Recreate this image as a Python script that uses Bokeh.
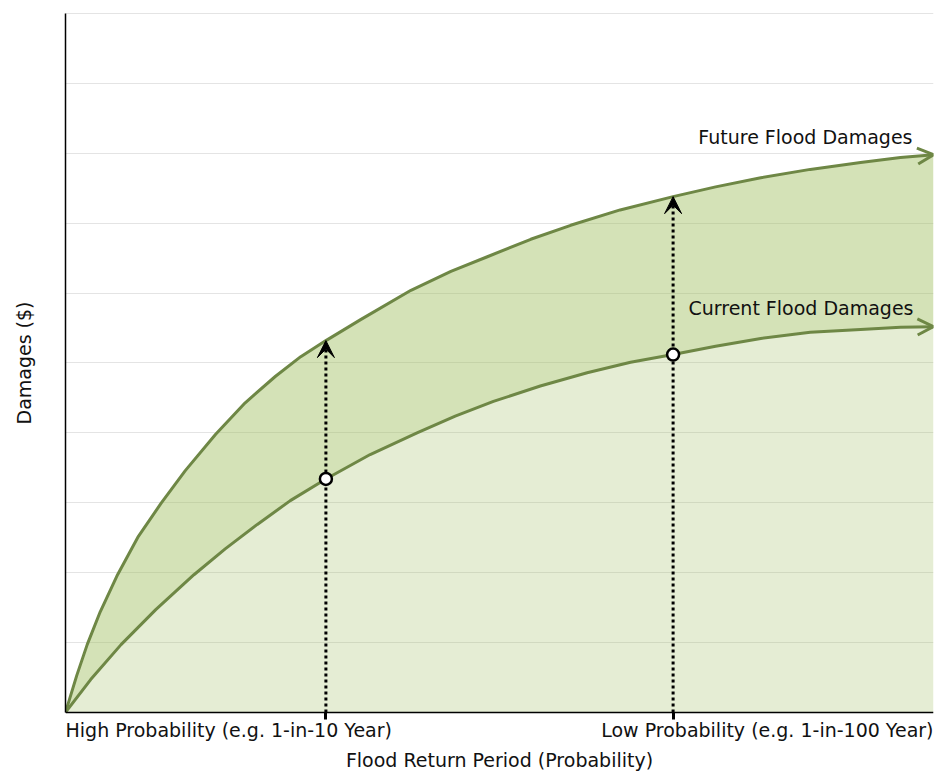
from bokeh.plotting import figure
from bokeh.models import (Range1d, FixedTicker, Arrow, OpenHead, VeeHead, Label, Title,
                          ColumnDataSource, CustomJSTickFormatter)
from bokeh.embed import file_html
from bokeh.resources import INLINE

# ---- data ----
x_start, x_end = 0, 100
y_start, y_end = 0, 10
y_pad_below = -0.86          # room under the axis for the end labels
y_pad_above = 10.015         # keeps the top grid line (10) just inside the frame
y_grid = [0, 1, 2, 3, 4, 5, 6, 7, 8, 9, 10]

future_x = [0, 1.3, 2.5, 4.0, 6.0, 8.4, 11.0, 13.8, 17.3, 20.7, 24.2, 27.1, 30,
            34.0, 39.8, 44.4, 48.6, 53.6, 58.2, 63.9, 70, 74.9, 80.1, 85.8, 91.6, 96.2, 100]
future_y = [0, 0.53, 0.97, 1.44, 1.97, 2.52, 2.99, 3.46, 3.98, 4.43, 4.81, 5.09, 5.32,
            5.62, 6.04, 6.31, 6.52, 6.77, 6.97, 7.19, 7.38, 7.52, 7.65, 7.77, 7.87, 7.94, 7.98]

current_x = [0, 2.9, 6.4, 10.4, 14.8, 18.4, 22.1, 25.9, 30, 35.1, 40.5, 44.9, 49.3,
             54.7, 60.1, 65.1, 70, 74.9, 80.1, 85.8, 91.6, 96.2, 100]
current_y = [0, 0.47, 0.97, 1.47, 1.97, 2.34, 2.69, 3.03, 3.34, 3.69, 4.00, 4.24, 4.45,
             4.67, 4.86, 5.01, 5.12, 5.24, 5.35, 5.44, 5.48, 5.51, 5.52]

event_x = [30, 70]
event_current = [3.34, 5.12]
event_future = [5.32, 7.38]

x_label_high = "High Probability (e.g. 1-in-10 Year)"
x_label_low = "Low Probability (e.g. 1-in-100 Year)"
x_title = "Flood Return Period (Probability)"
y_title = "Damages ($)"
future_name = "Future Flood Damages"
current_name = "Current Flood Damages"

# ---- styles ----
FONT = "DejaVu Sans"
FS = "19px"
GREEN = "#6e8745"
FILL = "#9bbb59"
TXT = "#111111"

p = figure(width=938, height=772, x_range=Range1d(x_start, x_end),
           y_range=Range1d(y_pad_below, y_pad_above), output_backend="svg",
           toolbar_location=None, min_border_left=65, min_border_right=5,
           min_border_top=12, min_border_bottom=0)
p.outline_line_color = None
p.background_fill_color = "white"
p.border_fill_color = "white"

empty = CustomJSTickFormatter(code="return ''")

# y axis (line only); its title is placed as a side Title so it centres on 0..10
p.yaxis.ticker = FixedTicker(ticks=y_grid)
p.yaxis.bounds = (y_start, y_end)
p.yaxis.formatter = empty
p.yaxis.major_tick_line_color = None
p.yaxis.major_tick_out = 26
p.yaxis.major_tick_in = 0
p.yaxis.minor_tick_line_color = None
p.yaxis.major_label_standoff = 0
p.yaxis.axis_line_color = "black"
p.yaxis.axis_line_width = 1.5

p.add_layout(Title(text=y_title, align="left", offset=348, vertical_align="bottom",
                   standoff=10, text_font=FONT, text_font_size=FS,
                   text_font_style="normal", text_color=TXT), "left")

# x axis, pinned at y = 0
p.xaxis.fixed_location = y_start
p.xaxis.ticker = FixedTicker(ticks=event_x)
p.xaxis.formatter = empty
p.xaxis.major_tick_out = 7
p.xaxis.major_tick_in = 0
p.xaxis.major_tick_line_width = 3
p.xaxis.major_tick_line_color = "black"
p.xaxis.minor_tick_line_color = None
p.xaxis.major_label_standoff = 0
p.xaxis.axis_line_color = "black"
p.xaxis.axis_line_width = 1.5
p.xaxis.axis_label = x_title
p.xaxis.axis_label_text_font = FONT
p.xaxis.axis_label_text_font_size = FS
p.xaxis.axis_label_text_font_style = "normal"
p.xaxis.axis_label_text_color = TXT
p.xaxis.axis_label_standoff = 29

p.xgrid.visible = False
p.ygrid.grid_line_color = "#e4e4e4"
p.ygrid.grid_line_width = 1

# fills
p.patch(x=current_x + [current_x[-1]], y=current_y + [y_start],
        fill_color=FILL, fill_alpha=0.26, line_color=None)
p.patch(x=future_x + current_x[::-1], y=future_y + current_y[::-1],
        fill_color=FILL, fill_alpha=0.43, line_color=None)

# curves
p.line(future_x, future_y, line_color=GREEN, line_width=3, line_join="round")
p.line(current_x, current_y, line_color=GREEN, line_width=3, line_join="round")

# curve-end arrowheads
for xs, ys in ((future_x, future_y), (current_x, current_y)):
    p.add_layout(Arrow(end=OpenHead(size=16, line_color=GREEN, line_width=3),
                       x_start=xs[-2], y_start=ys[-2], x_end=xs[-1], y_end=ys[-1],
                       line_alpha=0))

# dotted arrows
src = ColumnDataSource(dict(x=event_x, y0=[y_start] * len(event_x), y1=event_future))
p.add_layout(Arrow(end=VeeHead(size=17, fill_color="black", line_color="black", line_width=1),
                   source=src, x_start="x", y_start="y0", x_end="x", y_end="y1",
                   line_color="black", line_width=3, line_dash="3 3"))

# markers on current curve
r = p.scatter(event_x, event_current, size=12, fill_color="white",
              line_color="black", line_width=2.5)
r.level = "overlay"

# text labels
common = dict(text_font=FONT, text_font_size=FS, text_color=TXT)
p.add_layout(Label(x=x_start, y=y_start, text=x_label_high, text_align="left",
                   text_baseline="alphabetic", x_offset=0, y_offset=-18, **common))
p.add_layout(Label(x=x_end, y=y_start, text=x_label_low, text_align="right",
                   text_baseline="alphabetic", x_offset=0, y_offset=-18, **common))
p.add_layout(Label(x=future_x[-1], y=future_y[-1], text=future_name, text_align="right",
                   text_baseline="alphabetic", x_offset=-21, y_offset=18, **common))
p.add_layout(Label(x=current_x[-1], y=current_y[-1], text=current_name, text_align="right",
                   text_baseline="alphabetic", x_offset=-20, y_offset=18.5, **common))

open("out.html", "w").write(file_html(p, INLINE))
